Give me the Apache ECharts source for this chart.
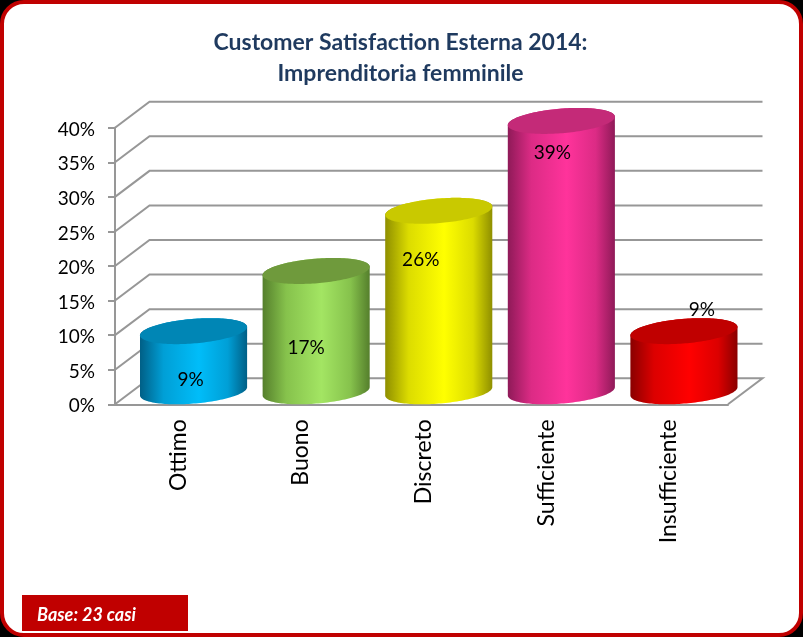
<!DOCTYPE html>
<html><head><meta charset="utf-8">
<style>html,body{margin:0;padding:0;background:#000}#c{width:803px;height:637px}</style>
<script src="https://cdn.jsdelivr.net/npm/echarts@6/dist/echarts.min.js"></script>
</head><body><div id="c"></div>
<script>
const categories = ['Ottimo','Buono','Discreto','Sufficiente','Insufficiente'];
const values = [8.7, 17.4, 26.1, 39.1, 8.7];
const valueTicks = [0,5,10,15,20,25,30,35,40];
const titleLines = ['Customer Satisfaction Esterna 2014:','Imprenditoria femminile'];
const baseNote = 'Base: 23 casi';

// Styles
const FONT = 'Lato, Carlito, Calibri, sans-serif';
const GREY = '#979797';
const RED = '#c00000';
const palette = [
  {edge:'#005f86', side:'#009fd6', mid:'#00bdf9', top:'#0086b5'},
  {edge:'#557f2c', side:'#86c24c', mid:'#a3e563', top:'#6f9a3c'},
  {edge:'#8f8f00', side:'#dcdc00', mid:'#ffff00', top:'#c9c900'},
  {edge:'#8f1a58', side:'#dc2b85', mid:'#ff339b', top:'#c42a78'},
  {edge:'#8a0000', side:'#dc0000', mid:'#ff0000', top:'#c00000'}
];
const depth = {dx:34.5, dy:26};
const labelShift = [[-3,49],[-10,77],[-18,49],[-9,32],[18,-21]];
const bodyRatio = 0.4135;

const chart = echarts.init(document.getElementById('c'), null, {renderer:'canvas', width:803, height:637});

function renderWall(params, api){
  const cs = params.coordSys, v = api.value(1);
  const y = api.coord([0, v])[1];
  const L = cs.x, R = cs.x + cs.width, dx = depth.dx, dy = depth.dy;
  const pts = v === 0
    ? [[L,y],[L+dx,y-dy],[R+dx,y-dy],[R,y]]
    : [[L,y],[L+dx,y-dy],[R+dx,y-dy]];
  return {type:'polyline', shape:{points:pts}, style:{stroke:GREY, lineWidth:2, fill:null}};
}

function renderCylinder(params, api){
  const i = api.value(0), v = api.value(1);
  const top = api.coord([i, v]), base = api.coord([i, 0]);
  const band = api.size([1,0])[0];
  const w = band * bodyRatio, ex = depth.dx/2, ey = depth.dy/2;
  const ox = ex, oy = -ey;
  const P = (c, t) => [c[0]+ox + w*Math.cos(t) + ex*Math.sin(t), c[1]+oy - ey*Math.sin(t)];
  const t0 = Math.atan2(ex, w), N = 72;
  const side = [], cap = [];
  for (let k = 0; k <= N; k++) side.push(P(base, t0 + Math.PI + Math.PI*k/N));
  for (let k = 0; k <= N; k++) side.push(P(top, t0 + Math.PI*k/N));
  for (let k = 0; k < N*2; k++) cap.push(P(top, Math.PI*k/N));
  const c = palette[i];
  const grad = new echarts.graphic.LinearGradient(0,0,1,0,[
    {offset:0, color:c.edge},{offset:0.22, color:c.side},{offset:0.55, color:c.mid},{offset:0.82, color:c.side},{offset:1, color:c.edge}
  ]);
  const s = labelShift[i];
  return {type:'group', children:[
    {type:'polygon', shape:{points:side}, style:{fill:grad}},
    {type:'polygon', shape:{points:cap}, style:{fill:c.top}},
    {type:'text', z2:5, style:{text:Math.round(v)+'%', x:top[0]+ox+s[0], y:top[1]+oy+s[1], align:'center', verticalAlign:'middle', font:'19px '+FONT, fill:'#000'}}
  ]};
}

chart.setOption({
  backgroundColor:'#000',
  animation:false,
  title:{text:titleLines.join('\n'), left:395.5, top:22, textAlign:'center',
    textStyle:{fontFamily:FONT, fontWeight:'bold', fontSize:23, lineHeight:31, color:'#1f3a5f'}},
  graphic:[
    {type:'rect', z:-10, shape:{x:2,y:2,width:799,height:633,r:22}, style:{fill:'#fff', stroke:RED, lineWidth:4}},
    {type:'rect', z:-9, shape:{x:22,y:595,width:166,height:36}, style:{fill:RED}},
    {type:'text', z:-8, style:{text:baseNote, x:37, y:615, verticalAlign:'middle', font:'italic bold 18px '+FONT, fill:'#fff'}}
  ],
  grid:{left:115, right:75, top:127.7, bottom:232.7, containLabel:false},
  xAxis:{type:'category', data:categories,
    axisLine:{lineStyle:{color:GREY,width:2}},
    axisTick:{alignWithLabel:false, length:7, lineStyle:{color:GREY,width:2}},
    axisLabel:{rotate:90, color:'#000', margin:15, formatter:v=>'{a|'+v+'}',
      rich:{a:{fontFamily:FONT, fontSize:23, color:'#000', padding:[4,0,0,0]}}}},
  yAxis:{type:'value', min:0, max:40, interval:5,
    splitLine:{show:false},
    axisLine:{show:true, lineStyle:{color:GREY,width:2}},
    axisTick:{show:true, length:7, lineStyle:{color:GREY,width:2}},
    axisLabel:{color:'#000', margin:20, formatter:v=>'{a|'+v+'%}',
      rich:{a:{fontFamily:FONT, fontSize:19, color:'#000', padding:[4,0,0,0]}}}},
  series:[
    {type:'custom', z:1, silent:true, renderItem:renderWall, data:valueTicks.map(t=>[0,t]), encode:{x:0,y:1}},
    {type:'custom', z:3, silent:true, renderItem:renderCylinder, data:values.map((v,i)=>[i,v]), encode:{x:0,y:1}}
  ]
});
</script></body></html>
